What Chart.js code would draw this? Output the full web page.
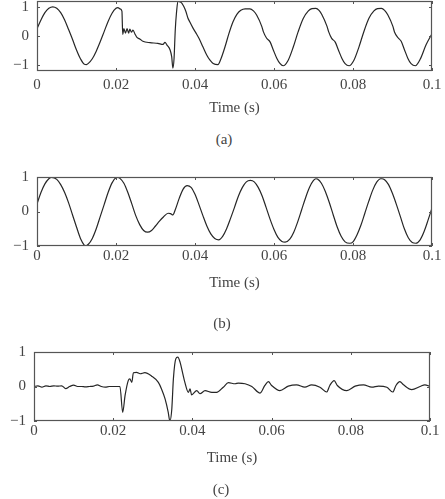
<!DOCTYPE html>
<html>
<head>
<meta charset="utf-8">
<script src="https://cdn.jsdelivr.net/npm/chart.js@4/dist/chart.umd.min.js"></script>
<style>
  html, body { margin:0; padding:0; background:#fff; }
  body { width:445px; height:499px; position:relative; overflow:hidden; }
  canvas { position:absolute; left:0; }
  .cap { position:absolute; width:60px; margin-left:-30px; text-align:center;
         font-family:"Liberation Serif", serif; font-size:15px; color:#444; line-height:18px; }
</style>
</head>
<body>
<canvas id="ca" width="445" height="125" style="top:0px"></canvas>
<canvas id="cb" width="445" height="150" style="top:150px"></canvas>
<canvas id="cc" width="445" height="199" style="top:300px"></canvas>
<div class="cap" style="left:224px; top:130px">(a)</div>
<div class="cap" style="left:222px; top:314px">(b)</div>
<div class="cap" style="left:221px; top:480px">(c)</div>
<script>
// ---- data ----
const xTicks = [0, 0.02, 0.04, 0.06, 0.08, 0.1];
const xTickLabels = ['0', '0.02', '0.04', '0.06', '0.08', '0.1'];
const yTicks = [-1, 0, 1];
const yTickLabels = ['\u22121', '0', '1'];
const xTitle = 'Time (s)';

// (a) measured signal
const tA = [0,0.001,0.002,0.003,0.004,0.005,0.006,0.007,0.008,0.009,0.010,0.011,0.012,0.0125,0.013,0.014,0.015,0.016,0.017,0.018,0.019,0.020,0.0205,0.021,0.0215,
  0.0217,0.0220,0.0224,0.0228,0.0232,0.0235,0.0239,0.0243,0.0248,0.0253,0.0261,0.0268,0.0286,0.0306,0.0319,0.0324,0.0329,0.0337,0.0341,0.0344,0.0347,
  0.0350,0.0353,0.0357,0.0362,0.0367,0.0372,0.0377,0.0382,0.0387,0.0395,0.0403,0.0410,0.0420,0.0430,0.0438,0.0446,0.0458,0.0466,0.0476,0.0486,
  0.0496,0.0506,0.0516,0.0527,0.0539,0.0548,
  0.0556,0.0569,0.0573,0.0581,0.0590,0.0598,0.0607,0.0615,0.0623,0.0636,0.0649,0.0661,0.0674,0.0687,0.0696,0.0706,0.0714,
  0.0721,0.0734,0.0738,0.0746,0.0755,0.0763,0.0772,0.0780,0.0790,0.0802,0.0815,0.0827,0.0840,0.0853,0.0862,0.0872,0.0880,
  0.0888,0.0901,0.0905,0.0914,0.0922,0.0930,0.0939,0.0947,0.0958,0.0970,0.0985,0.1];
const vA = [0.25,0.55,0.8,0.95,1.0,0.95,0.8,0.55,0.22,-0.12,-0.48,-0.78,-0.97,-0.98,-0.94,-0.78,-0.52,-0.2,0.15,0.5,0.78,0.95,0.97,0.93,0.85,
  0.05,0.25,0.1,0.25,0.1,0.24,0.13,0.2,0.07,-0.05,-0.11,-0.18,-0.23,-0.25,-0.29,-0.22,-0.31,-0.48,-0.71,-1.1,-0.76,
  0.2,0.78,1.2,1.17,1.12,1.0,0.84,0.62,0.48,0.27,0.09,-0.08,-0.37,-0.66,-0.83,-0.94,-0.98,-0.77,-0.37,0.09,
  0.48,0.74,0.88,0.93,0.93,0.86,
  0.72,0.33,0.15,-0.07,-0.2,-0.47,-0.76,-0.94,-1.02,-0.83,-0.37,0.14,0.6,0.86,0.94,0.95,0.88,
  0.74,0.34,0.16,-0.08,-0.21,-0.48,-0.77,-0.95,-1.02,-0.84,-0.38,0.13,0.6,0.86,0.94,0.95,0.88,
  0.73,0.33,0.14,-0.06,-0.18,-0.46,-0.77,-0.95,-1.02,-0.8,-0.3,0.08];

// (b) fundamental component
const tB = [0,0.001,0.002,0.003,0.0037,0.005,0.006,0.007,0.008,0.009,0.010,0.011,0.012,0.0122,0.013,0.014,0.015,0.016,0.017,0.018,0.019,0.020,0.0205,
  0.021,0.022,0.023,0.024,0.025,0.026,0.027,0.028,0.029,0.030,0.031,0.032,0.0332,0.0338,0.0344,0.035,0.036,0.037,0.038,0.039,0.040,
  0.041,0.042,0.043,0.044,0.045,0.046,0.047,0.048,0.049,0.050,0.051,0.052,0.053,0.054,0.055,0.056,0.057,0.058,0.059,0.060,0.061,0.062,0.0628,
  0.064,0.065,0.066,0.067,0.068,0.069,0.070,0.0706,0.071,0.072,0.073,0.074,0.075,0.076,0.077,0.078,0.0792,0.080,0.081,0.082,0.083,0.084,0.085,0.086,0.087,0.0873,
  0.088,0.089,0.090,0.091,0.092,0.093,0.094,0.095,0.0959,0.097,0.098,0.099,0.1];
const vB = [0.22,0.55,0.8,0.95,0.99,0.93,0.78,0.55,0.25,-0.1,-0.45,-0.78,-0.98,-1.0,-0.95,-0.78,-0.5,-0.15,0.2,0.55,0.83,0.98,0.99,
  0.96,0.82,0.55,0.22,-0.12,-0.38,-0.55,-0.6,-0.55,-0.42,-0.28,-0.16,-0.05,-0.06,-0.1,0.05,0.38,0.65,0.75,0.7,0.5,
  0.2,-0.12,-0.42,-0.65,-0.78,-0.82,-0.72,-0.5,-0.2,0.12,0.45,0.7,0.86,0.9,0.86,0.7,0.45,0.12,-0.22,-0.52,-0.75,-0.87,-0.89,
  -0.8,-0.6,-0.3,0.05,0.4,0.7,0.9,0.95,0.94,0.82,0.58,0.26,-0.1,-0.45,-0.72,-0.88,-0.92,-0.88,-0.68,-0.4,-0.05,0.3,0.62,0.85,0.95,0.95,
  0.92,0.78,0.52,0.2,-0.15,-0.5,-0.76,-0.9,-0.92,-0.82,-0.58,-0.25,0.1];

// (c) residual / disturbance
const tC = [0,0.001,0.002,0.003,0.004,0.005,0.006,0.007,0.008,0.009,0.010,0.011,0.012,0.013,0.014,0.015,0.016,0.017,0.018,0.019,0.020,0.021,0.0217,
  0.0224,0.0230,0.0238,0.0242,0.0247,0.0251,0.0259,0.0268,0.0280,0.0297,0.0314,0.0322,0.0331,0.0339,0.0343,0.0348,0.0352,0.0358,0.0363,0.0369,0.0375,0.0381,
  0.0390,0.0394,0.0398,0.0411,0.0419,0.0432,0.0449,0.0461,0.0478,0.0491,0.0508,0.0516,0.0533,0.0550,0.0571,0.0583,0.0592,0.0600,0.0621,0.0642,0.0663,0.0684,
  0.0701,0.0722,0.0739,0.0747,0.0758,0.0766,0.0790,0.0811,0.0832,0.0853,0.0870,0.0891,0.0906,0.0914,0.0924,0.0933,0.0954,0.0975,0.0987,0.1];
const vC = [0.0,0.02,-0.02,0.02,0.0,0.02,0.01,0.02,-0.06,0.0,0.04,0.0,0.0,-0.01,0.0,0.01,0.05,0.0,-0.02,0.0,0.0,0.0,0.0,
  -0.75,-0.26,0.17,0.22,0.12,0.4,0.41,0.37,0.4,0.3,0.12,-0.07,-0.36,-0.75,-1.0,-0.65,0.22,0.8,0.85,0.7,0.41,0.12,
  -0.17,-0.07,-0.24,-0.12,-0.21,-0.12,-0.17,-0.17,-0.02,0.11,0.08,0.1,0.08,0.0,-0.19,0.03,0.14,0.03,-0.12,0.01,0.05,-0.02,
  0.05,-0.02,-0.16,0.03,0.17,0.03,-0.12,0.01,0.05,-0.02,0.01,-0.02,-0.16,0.03,0.14,0.05,-0.09,0.0,0.05,0.0];

// ---- drawing ----
const FONT = '"Liberation Serif", "Times New Roman", serif';
const TEXT = '#444';

const boxPlugin = {
  id: 'boxTicks',
  afterDraw(chart) {
    const {ctx, chartArea: a, scales: {x, y}} = chart;
    ctx.save();
    ctx.strokeStyle = '#555';
    ctx.lineWidth = 1.2;
    ctx.strokeRect(Math.round(a.left) + 0.5, Math.round(a.top) + 0.5,
                   Math.round(a.width) - 1, Math.round(a.height) - 1);
    ctx.lineWidth = 1;
    const L = 3;
    ctx.beginPath();
    x.ticks.forEach(t => {
      const px = Math.round(x.getPixelForValue(t.value)) + 0.5;
      ctx.moveTo(px, a.top); ctx.lineTo(px, a.top + L);
      ctx.moveTo(px, a.bottom); ctx.lineTo(px, a.bottom - L);
    });
    y.ticks.forEach(t => {
      const py = Math.round(y.getPixelForValue(t.value)) + 0.5;
      ctx.moveTo(a.left, py); ctx.lineTo(a.left + L, py);
      ctx.moveTo(a.right, py); ctx.lineTo(a.right - L, py);
    });
    ctx.stroke();
    ctx.restore();
  }
};

function zeroPad(s) { s.paddingTop = 0; s.paddingBottom = 0; s.paddingLeft = 0; s.paddingRight = 0; }

function makeChart(id, tArr, vArr, cfg) {
  const pts = tArr.map((t, i) => ({x: t, y: vArr[i]}));
  return new Chart(document.getElementById(id), {
    type: 'line',
    data: { datasets: [{ data: pts, borderColor: '#262626', borderWidth: 1.2,
      pointRadius: 0, fill: false, cubicInterpolationMode: 'monotone' }] },
    options: {
      responsive: false, animation: false, devicePixelRatio: 1,
      layout: { padding: cfg.padding },
      plugins: { legend: { display: false }, tooltip: { enabled: false } },
      scales: {
        x: {
          type: 'linear', min: 0, max: 0.1,
          grid: { display: false, drawTicks: false }, border: { display: false },
          afterBuildTicks: s => { s.ticks = xTicks.map(v => ({value: v})); },
          afterFit: s => { s.height = cfg.xHeight; zeroPad(s); },
          ticks: { padding: cfg.xPad, color: TEXT, maxRotation: 0, autoSkip: false,
                   font: { family: FONT, size: 15, lineHeight: 1.0 },
                   callback: (v, i) => xTickLabels[i] },
          title: { display: true, text: xTitle, color: TEXT, padding: 0,
                   font: { family: FONT, size: 15, lineHeight: 1.2 } }
        },
        y: {
          type: 'linear', min: cfg.yMin, max: cfg.yMax,
          grid: { display: false, drawTicks: false }, border: { display: false },
          afterBuildTicks: s => { s.ticks = yTicks.map(v => ({value: v})); },
          afterFit: s => { s.width = cfg.yWidth; zeroPad(s); },
          ticks: { padding: 8, color: TEXT, autoSkip: false,
                   font: { family: FONT, size: 15, lineHeight: 1.0 },
                   callback: (v, i) => yTickLabels[i] }
        }
      }
    },
    plugins: [boxPlugin]
  });
}

makeChart('ca', tA, vA, { padding: {top: 1, left: 0, right: 13, bottom: 8}, xHeight: 46, xPad: 7, yWidth: 37, yMin: -1.2, yMax: 1.2 });
makeChart('cb', tB, vB, { padding: {top: 27, left: 0, right: 13, bottom: 8}, xHeight: 46, xPad: 3, yWidth: 37, yMin: -1, yMax: 1 });
makeChart('cc', tC, vC, { padding: {top: 52, left: 0, right: 15, bottom: 32}, xHeight: 46, xPad: 3, yWidth: 34, yMin: -1, yMax: 1 });
</script>
</body>
</html>
